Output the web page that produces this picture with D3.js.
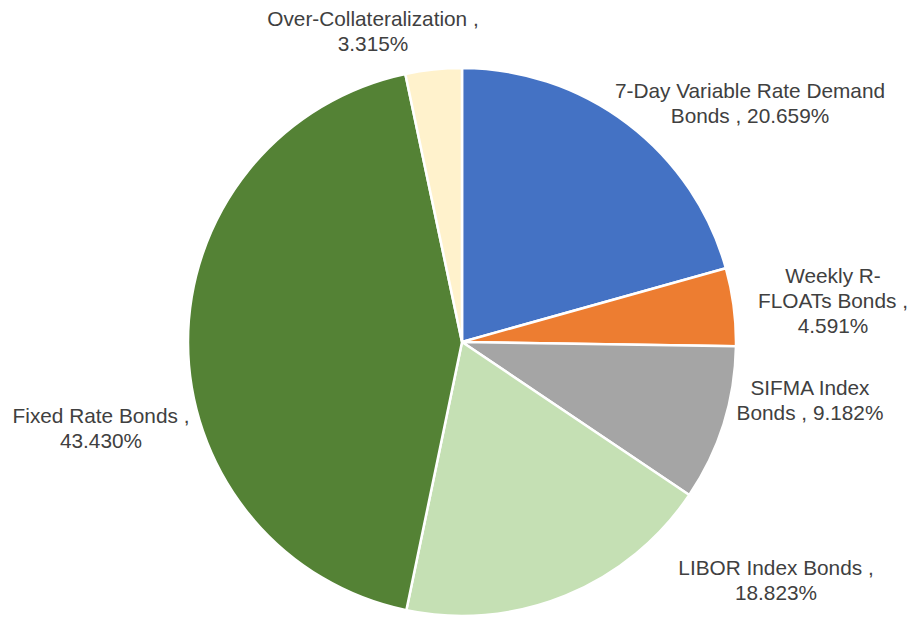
<!DOCTYPE html>
<html>
<head>
<meta charset="utf-8">
<script src="https://cdn.jsdelivr.net/npm/d3@7"></script>
<style>
  body { margin: 0; background: #fff; }
  text { font-family: "Liberation Sans", Arial, sans-serif; }
</style>
</head>
<body>
<script>
// slice data, clockwise from 12 o'clock
var categories = ["7-Day Variable Rate Demand Bonds", "Weekly R-FLOATs Bonds", "SIFMA Index Bonds",
                  "LIBOR Index Bonds", "Fixed Rate Bonds", "Over-Collateralization"];
var values = [20.659, 4.591, 9.182, 18.823, 43.430, 3.315];
var colors = ["#4472C4", "#ED7D31", "#A5A5A5", "#C5E0B4", "#548235", "#FFF2CC"];

// label lines as Excel wrapped them
var labelLines = [
    ["7-Day Variable Rate Demand", "Bonds , 20.659%"],
    ["Weekly R-", "FLOATs Bonds ,", "4.591%"],
    ["SIFMA Index", "Bonds , 9.182%"],
    ["LIBOR Index Bonds ,", "18.823%"],
    ["Fixed Rate Bonds ,", "43.430%"],
    ["Over-Collateralization ,", "3.315%"]
];
// first baseline position of each label (center x, baseline y)
var labelPos = [[750, 98], [833, 283], [810, 395], [776, 575], [101, 423], [373, 26]];

var w = 915, h = 617;
var cx = 462, cy = 342, r = 274;

var svg = d3.select("body").append("svg")
    .attr("width", w)
    .attr("height", h);

var pie = d3.pie().sort(null).value(function(d) { return d; });
var arc = d3.arc().innerRadius(0).outerRadius(r);

var g = svg.append("g").attr("transform", "translate(" + cx + "," + cy + ")");

g.selectAll("path")
    .data(pie(values))
    .enter()
    .append("path")
    .attr("d", arc)
    .attr("fill", function(d, i) { return colors[i]; })
    .attr("stroke", "#fff")
    .attr("stroke-width", 2.5)
    .attr("stroke-linejoin", "round");

//labels
var labels = svg.selectAll("text.lbl")
    .data(labelLines)
    .enter()
    .append("text")
    .attr("class", "lbl")
    .attr("text-anchor", "middle")
    .attr("font-size", "20.8px")
    .attr("fill", "#404040");

labels.each(function(lines, i) {
    var t = d3.select(this);
    lines.forEach(function(line, j) {
        t.append("tspan")
            .attr("x", labelPos[i][0])
            .attr("y", labelPos[i][1] + j * 25)
            .text(line);
    });
});
</script>
</body>
</html>
